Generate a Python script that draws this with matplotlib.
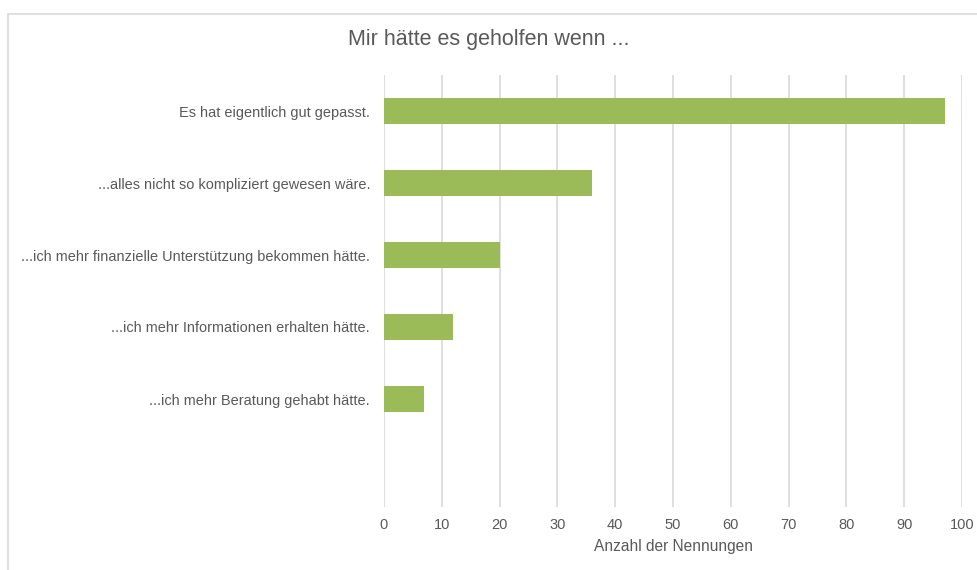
import numpy as np
import matplotlib.pyplot as plt
from matplotlib.patches import Rectangle

plt.rcParams['font.family'] = ['Liberation Sans', 'DejaVu Sans']

categories = [
    "Es hat eigentlich gut gepasst.",
    "...alles nicht so kompliziert gewesen wäre.",
    "...ich mehr finanzielle Unterstützung bekommen hätte.",
    "...ich mehr Informationen erhalten hätte.",
    "...ich mehr Beratung gehabt hätte.",
]
values = [97, 36, 20, 12, 7]
xticks = np.arange(0, 101, 10)

text_col = "#595959"
grid_col = "#d9d9d9"
bar_col = "#9bbb59"

fig = plt.figure(figsize=(9.78, 5.7), dpi=100)
fig.patches.append(Rectangle((8 / 978, -0.1), 1.1, (570 - 14) / 570 + 0.1,
                             transform=fig.transFigure, fill=False,
                             edgecolor=grid_col, linewidth=1.2))

ax = fig.add_axes([384 / 978, 63 / 570, 578 / 978, 432 / 570])
y = np.arange(len(categories))
ax.barh(y, values, height=0.35, color=bar_col, zorder=3)

ax.set_xlim(0, 100)
ax.set_ylim(len(categories) + 0.5, -0.5)
ax.set_xticks(xticks)
ax.set_yticks(y)
ax.set_yticklabels(categories)
ax.tick_params(length=0, labelsize=10.5, labelcolor=text_col)
ax.tick_params(axis='y', pad=10, labelsize=10.45)
ax.tick_params(axis='x', pad=8)
ax.grid(axis='x', color=grid_col, linewidth=1.2, zorder=0)
for s in ax.spines.values():
    s.set_visible(False)

ax.set_xlabel("Anzahl der Nennungen", fontsize=11.2, color=text_col, labelpad=5)
fig.text(0.5, 1 - 40 / 570, "Mir hätte es geholfen wenn ...", ha='center', va='center',
         fontsize=15.5, color=text_col)

fig.savefig("out.png", dpi=100)
